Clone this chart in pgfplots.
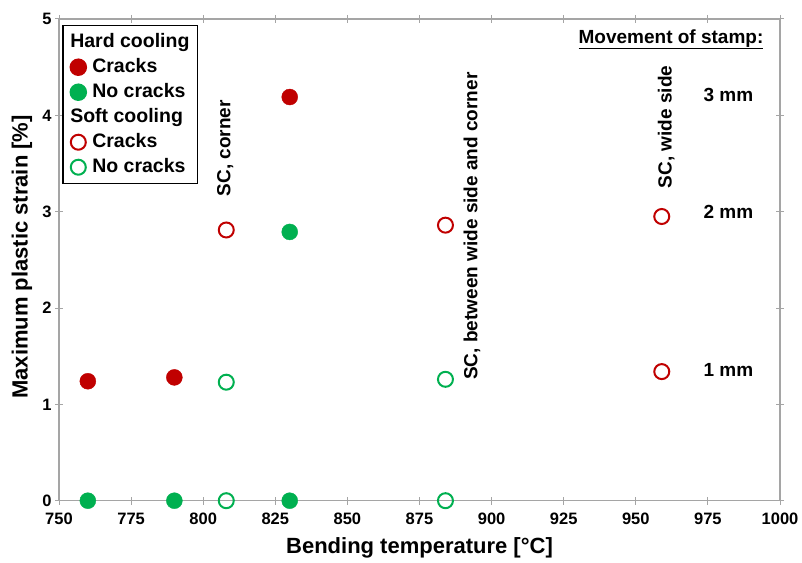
\documentclass[border=0pt]{standalone}
\usepackage{fontspec}
\setmainfont{Liberation Sans}
\usepackage{pgfplots}
\pgfplotsset{compat=1.18}
\definecolor{cred}{RGB}{192,0,0}
\definecolor{cgreen}{RGB}{0,176,80}
\definecolor{axgray}{RGB}{165,165,165}
\begin{document}
\begin{tikzpicture}
\useasboundingbox (0,0) rectangle (802pt,562pt);
\begin{axis}[
  at={(59pt,61.3pt)}, anchor=south west,
  scale only axis, width=721pt, height=481.7pt,
  xmin=750, xmax=1000, ymin=0, ymax=5,
  xtick={750,775,...,1000}, ytick={0,1,2,3,4,5},
  axis line style={axgray, line width=1.2pt},
  tick style={axgray, line width=1pt},
  major tick length=8pt,
  tick align=center,
  /pgf/number format/assume math mode=true,
  /pgf/number format/1000 sep={},
  ticklabel style={font=\fontsize{16.5}{18}\selectfont\bfseries},
  xticklabel style={yshift=-5pt},
  xlabel={Bending temperature [°C]},
  ylabel={Maximum plastic strain [\%]},
  label style={font=\fontsize{22}{26}\selectfont\bfseries},
  xlabel style={at={(axis description cs:0.5,-0.0976)}, anchor=center},
  ylabel style={at={(axis description cs:-0.0513,0.506)}, anchor=center},
  legend style={at={(axis description cs:0.0042,0.9876)}, anchor=north west,
    draw=black, line width=1.5pt, inner xsep=7pt, inner ysep=6.5pt,
    font=\fontsize{19.5}{22}\selectfont\bfseries,
    row sep=5pt,
    /tikz/every odd column/.style={column sep=5pt},
    nodes={inner sep=1pt, text height=14pt, text depth=4pt}},
  legend cell align=left,
  clip=false,
]
\addlegendimage{empty legend}
\addlegendentry{\hspace*{-22pt}Hard cooling}
\addplot[only marks, mark=*, mark size=8pt, draw=cred, fill=cred] coordinates {
  (760,1.24) (790,1.28) (830,4.19)};
\addlegendentry{Cracks}
\addplot[only marks, mark=*, mark size=8pt, draw=cgreen, fill=cgreen] coordinates {
  (760,0) (790,0) (830,0) (830,2.79)};
\addlegendentry{No cracks}
\addlegendimage{empty legend}
\addlegendentry{\hspace*{-22pt}Soft cooling}
\addplot[only marks, mark=o, mark size=7.5pt, draw=cred, line width=2pt, fill=white] coordinates {
  (808,2.81) (884,2.86) (959,2.95) (959,1.34)};
\addlegendentry{Cracks}
\addplot[only marks, mark=o, mark size=7.5pt, draw=cgreen, line width=2pt, fill=white] coordinates {
  (808,1.23) (808,0) (884,1.26) (884,0)};
\addlegendentry{No cracks}

\node[rotate=90, font=\fontsize{19}{22}\selectfont\bfseries] at (axis cs:807.6,3.66) {SC, corner};
\node[rotate=90, font=\fontsize{19}{22}\selectfont\bfseries] at (axis cs:893.2,2.85) {SC, between wide side and corner};
\node[rotate=90, font=\fontsize{19}{22}\selectfont\bfseries] at (axis cs:960.5,3.88) {SC, wide side};
\node[font=\fontsize{19}{22}\selectfont\bfseries] at (axis cs:962.2,4.79) {\underline{Movement of stamp:}};
\node[font=\fontsize{19}{22}\selectfont\bfseries] at (axis cs:982.1,4.21) {3 mm};
\node[font=\fontsize{19}{22}\selectfont\bfseries] at (axis cs:982.1,3.00) {2 mm};
\node[font=\fontsize{19}{22}\selectfont\bfseries] at (axis cs:982.1,1.36) {1 mm};
\end{axis}
\end{tikzpicture}
\end{document}
